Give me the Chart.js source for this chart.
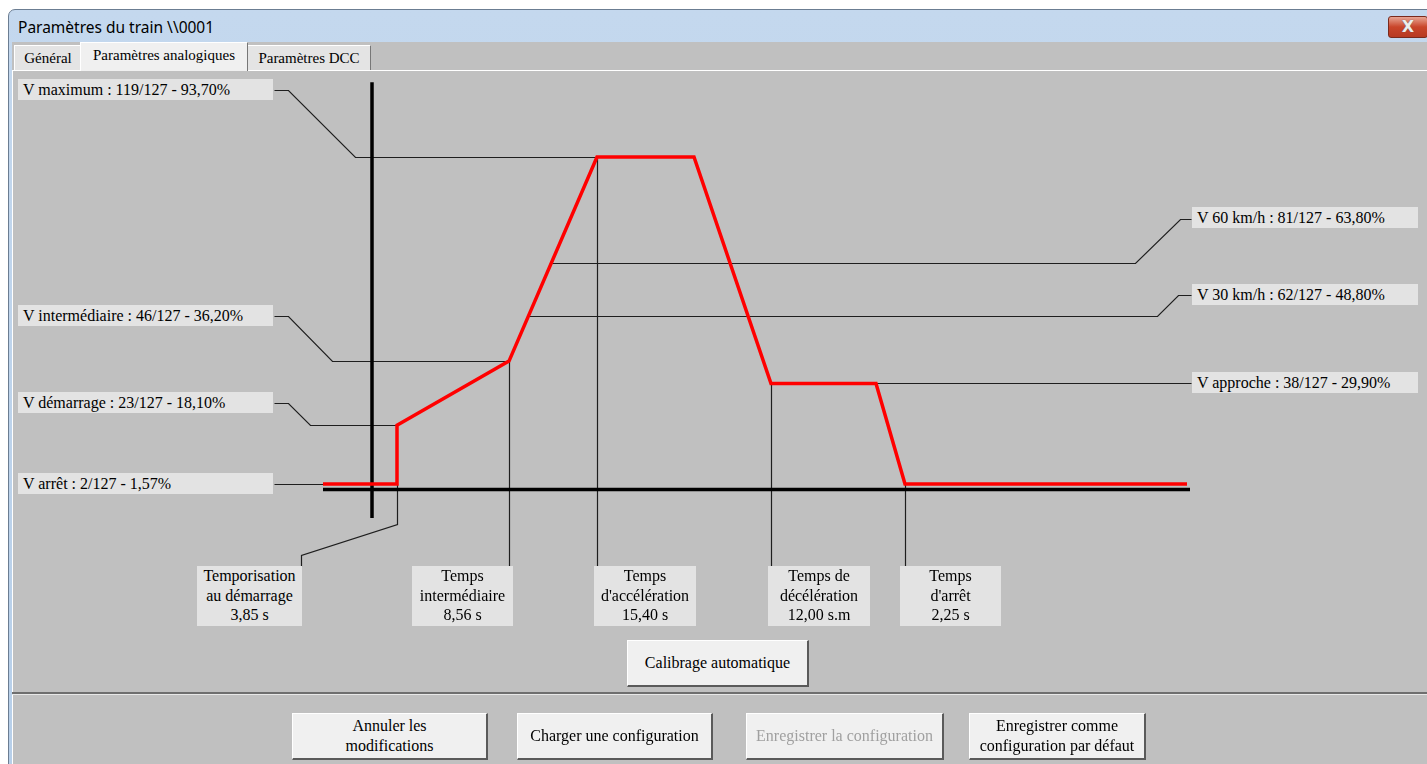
<!DOCTYPE html>
<html lang="fr">
<head>
<meta charset="UTF-8">
<title>Paramètres du train</title>
<script src="https://cdn.jsdelivr.net/npm/chart.js"></script>
<style>
    body { margin: 0; width: 1427px; height: 764px; overflow: hidden; background: #fff; position: relative; font-family: "Liberation Serif", serif; }
    #frame { position: absolute; left: 8px; top: 9px; width: 1440px; height: 770px; background: linear-gradient(#c4d8ee, #b7cfe9); border: 1px solid #6b7d92; border-top-left-radius: 7px; }
    #title { position: absolute; left: 18px; top: 16px; font: 15.5px "Noto Sans", sans-serif; color: #000; }
    #close { position: absolute; left: 1388px; top: 16px; width: 38px; height: 20px; border: 1px solid #7a2a1c; border-radius: 3px; background: linear-gradient(#e8a593, #c9452a 50%, #b73a22); color: #eee; font: bold 16px "DejaVu Sans", sans-serif; text-align: center; line-height: 19px; text-shadow: 0 0 1px #555; }
    #client { position: absolute; left: 12px; top: 42px; width: 1420px; height: 730px; background: #c0c0c0; }
    #panel { position: absolute; left: 12px; top: 70px; width: 1420px; height: 700px; border-top: 1px solid #fff; border-left: 1px solid #fff; }
    .tab { position: absolute; top: 45px; height: 24px; background: #e4e4e4; border: 1px solid #fff; border-right-color: #777; border-bottom: none; font-size: 15px; line-height: 24px; text-align: center; }
    .tab.on { top: 42px; height: 28px; background: #f0f0f0; line-height: 24px; z-index: 2; }
    .lbl { position: absolute; background: #e3e3e3; font-size: 16px; line-height: 21px; height: 21px; padding-left: 5px; box-sizing: border-box; white-space: nowrap; z-index: 3; }
    .tlbl { position: absolute; top: 566px; height: 60px; background: #e3e3e3; font-size: 16px; line-height: 19.5px; text-align: center; z-index: 3; }
    .btn { position: absolute; background: #f0f0f0; border-top: 1px solid #fff; border-left: 1px solid #fff; border-right: 2px solid #5a5a5a; border-bottom: 2px solid #5a5a5a; box-sizing: border-box; font-size: 16px; line-height: 20px; text-align: center; display: flex; align-items: center; justify-content: center; z-index: 3; }
    .btn.off { color: #a0a0a0; }
    #sep { position: absolute; left: 12px; top: 692px; width: 1420px; height: 2px; background: #6e6e6e; border-bottom: 1px solid #e8e8e8; }
    #chart { position: absolute; left: 0; top: 0; z-index: 1; }
</style>
</head>
<body>
    <div id="frame"></div>
    <div id="title">Paramètres du train \\0001</div>
    <div id="close">X</div>
    <div id="client"></div>
    <div id="panel"></div>
    <div class="tab" style="left:14px;width:66px;">Général</div>
    <div class="tab on" style="left:80px;width:166px;">Paramètres analogiques</div>
    <div class="tab" style="left:247px;width:122px;">Paramètres DCC</div>
    <div id="sep"></div>

    <canvas id="chart" width="1427" height="764"></canvas>

    <div id="labels"></div>

    <div class="btn" style="left:627px;top:640px;width:182px;height:47px;">Calibrage automatique</div>
    <div class="btn" style="left:292px;top:713px;width:196px;height:47px;">Annuler les<br>modifications</div>
    <div class="btn" style="left:517px;top:713px;width:196px;height:47px;">Charger une configuration</div>
    <div class="btn off" style="left:746px;top:713px;width:198px;height:47px;">Enregistrer la configuration</div>
    <div class="btn" style="left:969px;top:713px;width:177px;height:47px;">Enregistrer comme<br>configuration par défaut</div>

<script>
    // Speed settings (steps out of 127 and percent shown)
    const speedNames = ['V maximum', 'V intermédiaire', 'V démarrage', 'V arrêt', 'V 60 km/h', 'V 30 km/h', 'V approche'];
    const speedSteps = [119, 46, 23, 2, 81, 62, 38];
    const speedPct = [93.70, 36.20, 18.10, 1.57, 63.80, 48.80, 29.90];

    // Timing settings
    const timeNames = ['Temporisation<br>au démarrage', 'Temps<br>intermédiaire', 'Temps<br>d\'accélération', 'Temps de<br>décélération', 'Temps<br>d\'arrêt'];
    const timeValues = ['3,85 s', '8,56 s', '15,40 s', '12,00 s.m', '2,25 s'];

    // Speed profile: horizontal position (origin at vertical axis) and speed in %
    const profileX = [-49, 25, 25, 137, 225, 322, 399, 504, 533, 815];
    const profileV = [1.57, 1.57, 18.10, 36.20, 93.70, 93.70, 29.90, 29.90, 1.57, 1.57];

    // Axes extent
    const axisXRange = [-49, 818];
    const axisYRange = [-8, 114.8];

    // label boxes (layout only)
    const speedBoxes = [
        { left: 18, top: 79, w: 255 }, { left: 18, top: 305, w: 255 }, { left: 18, top: 392, w: 255 }, { left: 18, top: 473, w: 255 },
        { left: 1192, top: 207, w: 226 }, { left: 1192, top: 284, w: 226 }, { left: 1192, top: 372, w: 226 }
    ];
    const timeBoxes = [{ left: 197, w: 105 }, { left: 412, w: 101 }, { left: 594, w: 102 }, { left: 768, w: 102 }, { left: 900, w: 101 }];

    const labelsDiv = document.getElementById('labels');
    speedNames.forEach((name, i) => {
        const b = speedBoxes[i];
        const d = document.createElement('div');
        d.className = 'lbl';
        d.style.left = b.left + 'px';
        d.style.top = b.top + 'px';
        d.style.width = b.w + 'px';
        d.textContent = `${name} : ${speedSteps[i]}/127 - ${speedPct[i].toFixed(2).replace('.', ',')}%`;
        labelsDiv.appendChild(d);
    });
    timeNames.forEach((name, i) => {
        const b = timeBoxes[i];
        const d = document.createElement('div');
        d.className = 'tlbl';
        d.style.left = b.left + 'px';
        d.style.width = b.w + 'px';
        d.innerHTML = `${name}<br>${timeValues[i]}`;
        labelsDiv.appendChild(d);
    });

    // x where the acceleration slope reaches a speed
    function accelX(v) {
        const i = 3;
        return profileX[i] + (v - profileV[i]) / (profileV[i + 1] - profileV[i]) * (profileX[i + 1] - profileX[i]);
    }

    // Leader lines from the boxes to the profile
    const leaderPlugin = {
        id: 'leaders',
        beforeDatasetsDraw(chart) {
            const c = chart.ctx, xs = chart.scales.x, ys = chart.scales.y;
            const px = v => xs.getPixelForValue(v), py = v => ys.getPixelForValue(v);
            const paths = [
                [[274, 90], [288, 90], [355, py(speedPct[0])], [px(profileX[4]), py(speedPct[0])]],
                [[274, 316], [288, 316], [332, py(speedPct[1])], [px(profileX[3]), py(speedPct[1])]],
                [[274, 403], [288, 403], [310, py(speedPct[2])], [px(profileX[2]), py(speedPct[2])]],
                [[274, 484], [px(profileX[0]), py(speedPct[3])]],
                [[1191, 219], [1180, 219], [1135, py(speedPct[4])], [px(accelX(speedPct[4])), py(speedPct[4])]],
                [[1191, 295], [1178, 295], [1157, py(speedPct[5])], [px(accelX(speedPct[5])), py(speedPct[5])]],
                [[1191, 383], [px(profileX[7]), py(speedPct[6])]],
                [[px(profileX[1]), py(profileV[1])], [px(profileX[1]), 524], [301, 555], [301, 566]],
                [[px(profileX[3]), py(profileV[3])], [px(profileX[3]), 566]],
                [[px(profileX[4]), py(profileV[4])], [px(profileX[4]), 566]],
                [[px(profileX[6]), py(profileV[6])], [px(profileX[6]), 566]],
                [[px(profileX[8]), py(profileV[8])], [px(profileX[8]), 566]]
            ];
            c.save();
            c.strokeStyle = '#1e1e1e';
            c.lineWidth = 1.2;
            paths.forEach(p => {
                c.beginPath();
                p.forEach((pt, k) => {
                    const x = Math.round(pt[0]) + 0.5, y = Math.round(pt[1]) + 0.5;
                    if (k === 0) c.moveTo(x, y); else c.lineTo(x, y);
                });
                c.stroke();
            });
            c.restore();
        }
    };

    const ctx = document.getElementById('chart').getContext('2d');
    new Chart(ctx, {
        type: 'line',
        data: {
            datasets: [
                {
                    data: profileX.map((x, i) => ({ x, y: profileV[i] })),
                    borderColor: '#ff0000',
                    borderWidth: 3.5,
                    order: 0
                },
                {
                    data: axisXRange.map(x => ({ x, y: 0 })),
                    borderColor: '#000',
                    borderWidth: 3.5,
                    order: 1
                },
                {
                    data: axisYRange.map(y => ({ x: 0, y })),
                    borderColor: '#000',
                    borderWidth: 3.5,
                    order: 1
                }
            ]
        },
        options: {
            responsive: false,
            animation: false,
            layout: { padding: 0 },
            elements: { point: { radius: 0 }, line: { tension: 0, borderCapStyle: 'butt' } },
            scales: {
                x: { type: 'linear', min: -372, max: 1055, display: false },
                y: { type: 'linear', min: -77.32, max: 137.95, display: false }
            },
            plugins: { legend: { display: false }, tooltip: { enabled: false } }
        },
        plugins: [leaderPlugin]
    });
</script>
</body>
</html>
